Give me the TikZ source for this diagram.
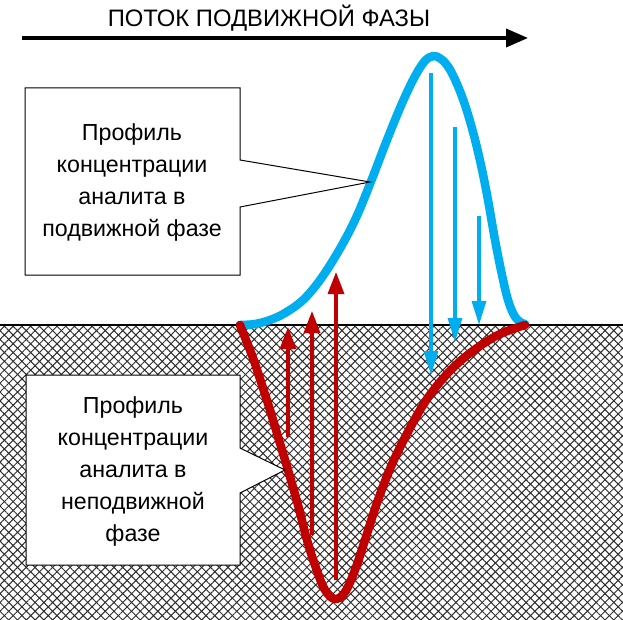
\documentclass[tikz,border=0pt]{standalone}
\usepackage{fontspec}
\setmainfont{Liberation Sans}
\usetikzlibrary{arrows.meta,patterns.meta}
\definecolor{pkblue}{RGB}{0,174,239}
\definecolor{pkred}{RGB}{192,0,0}
\definecolor{hatchc}{RGB}{45,45,45}
\tikzset{
  hatchA/.style={pattern={Lines[angle=45,distance=6.2pt,line width=1pt]},pattern color=hatchc},
  hatchB/.style={pattern={Lines[angle=-45,distance=6.2pt,line width=1pt]},pattern color=hatchc},
  curveblue/.style={draw=pkblue,line width=8.5pt,line cap=round,line join=round},
  curvered/.style={draw=pkred,line width=8.5pt,line cap=round,line join=round},
  bluearrow/.style={draw=pkblue,line width=3.2pt,-{Triangle[length=24pt,width=14pt]}},
  redarrow/.style={draw=pkred,line width=3.4pt,-{Triangle[length=22pt,width=16pt]}},
  flowarrow/.style={draw=black,line width=3.8pt,-{Triangle[length=22pt,width=18pt]}},
  calloutbox/.style={draw=black,line width=1pt,fill=white},
  callouttext/.style={align=center,font=\fontsize{23.2}{32}\selectfont},
  titletext/.style={font=\fontsize{23.8}{28}\selectfont}
}
\begin{document}
\begin{tikzpicture}[x=1pt,y=-1pt]
\useasboundingbox (0,0) rectangle (623,620);
% stationary phase hatch
\fill[white] (0,325) rectangle (623,620);
\fill[hatchA] (0,325) rectangle (623,620);
\fill[hatchB] (0,325) rectangle (623,620);
\coordinate (bl) at (0,325);
\coordinate (br) at (623,325);
\draw[black,line width=1.8pt] (bl) -- (br);
% title and flow arrow
\node[titletext] (title) at (269,18) {ПОТОК ПОДВИЖНОЙ ФАЗЫ};
\coordinate (fa) at (22,38);
\coordinate (fb) at (528,38);
\draw[flowarrow] (fa) -- (fb);
% mobile phase profile
\draw[curveblue] plot[smooth,tension=0.6] coordinates {
(240,325) (255,324) (270,320) (285,313) (303,300) (320,280) (338,252)
(355,220) (370,184) (385,145) (400,108) (413,80) (424,62) (433,56)
(441,59) (449,68) (457,84) (465,105) (473,132) (481,165) (488,200)
(495,240) (502,275) (508,300) (514,315) (520,322) (525,324)};
% stationary phase profile
\draw[curvered] plot[smooth,tension=0.6] coordinates {
(240,325) (246,340) (253,358) (261,382) (270,410) (279,440) (288,470)
(298,505) (307,540) (316,568) (325,590) (335,599) (345,592) (355,570)
(365,540) (378,500) (393,462) (410,428) (425,402) (440,382) (457,364)
(477,348) (500,334) (525,325)};
% blue arrows (down)
\coordinate (b1s) at (431,73);  \coordinate (b1e) at (431,375);
\coordinate (b2s) at (455,127); \coordinate (b2e) at (455,342);
\coordinate (b3s) at (479,216); \coordinate (b3e) at (479,325);
\draw[bluearrow] (b1s) -- (b1e);
\draw[bluearrow] (b2s) -- (b2e);
\draw[bluearrow] (b3s) -- (b3e);
% red arrows (up)
\coordinate (r1s) at (288,437); \coordinate (r1e) at (288,327);
\coordinate (r2s) at (312,535); \coordinate (r2e) at (312,311);
\coordinate (r3s) at (336,580); \coordinate (r3e) at (336,272);
\draw[redarrow] (r1s) -- (r1e);
\draw[redarrow] (r2s) -- (r2e);
\draw[redarrow] (r3s) -- (r3e);
% callout 1
\coordinate (c1tip) at (370,182);
\draw[calloutbox] (25,88) -- (240,88) -- (240,160) -- (c1tip) -- (240,207)
  -- (240,275) -- (25,275) -- cycle;
\node[callouttext] (c1) at (132,183) {Профиль\\концентрации\\аналита в\\подвижной фазе};
% callout 2
\coordinate (c2tip) at (285,470);
\draw[calloutbox] (26,375) -- (240,375) -- (240,448) -- (c2tip) -- (240,493)
  -- (240,565) -- (26,565) -- cycle;
\node[callouttext] (c2) at (133,471) {Профиль\\концентрации\\аналита в\\неподвижной\\фазе};
\end{tikzpicture}
\end{document}
